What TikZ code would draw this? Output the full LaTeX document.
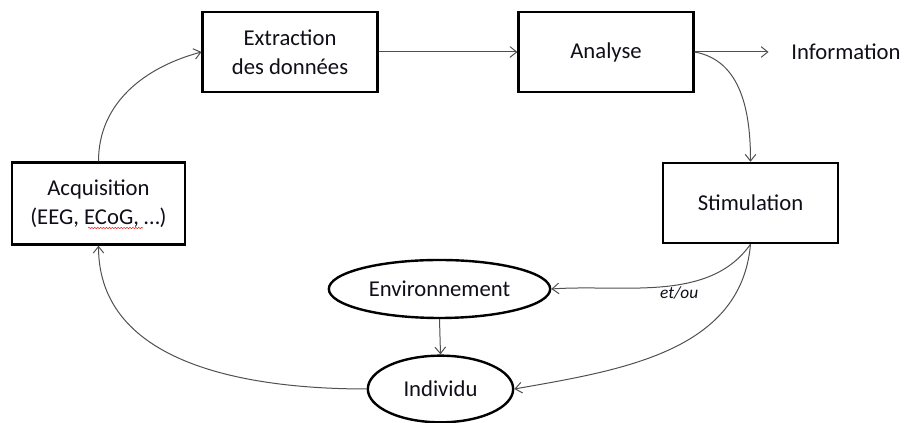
\documentclass[tikz,border=0pt]{standalone}
\usepackage{fontspec}
\setmainfont{Carlito}
\usepackage{xcolor}
\usetikzlibrary{shapes.geometric,arrows.meta,decorations.pathmorphing}
\definecolor{bciBorder}{RGB}{0,0,0}
\definecolor{bciLine}{RGB}{80,80,80}
\definecolor{bciText}{RGB}{15,15,25}
\definecolor{bciSpell}{RGB}{230,40,40}

\tikzset{
  stageBox/.style={draw=bciBorder, line width=1.8pt, fill=white, align=center,
    text=bciText, minimum width=131pt, minimum height=60pt,
    font=\fontsize{17}{21.5}\selectfont},
  stageOval/.style={ellipse, draw=bciBorder, line width=1.8pt, fill=white,
    text=bciText, inner sep=0pt, font=\fontsize{17}{21.5}\selectfont},
  flowArrow/.style={-{Straight Barb[length=5pt,width=8pt]}, draw=bciLine, line width=0.75pt}
}

\begin{document}
\begin{tikzpicture}[x=0.75pt, y=0.75pt]
                \useasboundingbox (0,0) rectangle (906,423);
                % boxes of the loop
                \node[stageBox, minimum width=130pt, minimum height=61.5pt] (acq) at (98.5,219.5) {Acquisition\\(EEG, ECoG, \ldots)};
                \node[stageBox] (ext) at (290,371) {Extraction\\des données};
                \node[stageBox] (ana) at (606,371) {Analyse};
                \node[stageBox] (stim) at (750.5,220) {Stimulation};
                \node[stageOval, minimum width=166pt, minimum height=43.5pt] (env) at (439.5,134) {Environnement};
                \node[stageOval, minimum width=109pt, minimum height=50pt] (ind) at (440.5,34) {Individu};
                \node[text=bciText, inner sep=0pt, font=\fontsize{17}{21.5}\selectfont] (info) at (846,371) {Information};
                % spell-check underline
                \draw[bciSpell, line width=0.4pt, decorate, decoration={snake, amplitude=0.5pt, segment length=2.2pt}] (88,195) -- (143,195);
                % connectors
                \draw[flowArrow] (acq.north) to[out=90, in=195] (ext.west);
                \draw[flowArrow] (ext.east) -- (ana.west);
                \draw[flowArrow, shorten >=17pt] (ana.east) -- (info.west);
                \draw[flowArrow] (ana.east) to[out=-10, in=90] (stim.north);
                \draw[flowArrow] (stim.south) to[out=-125, in=4, looseness=0.9] node[pos=0.42, below, inner sep=1pt, text=bciText, font=\fontsize{13}{15}\selectfont\itshape] (etou) {et/ou} (env.east);
                \draw[flowArrow] (stim.south) to[out=-95, in=10] (ind.east);
                \draw[flowArrow] (env.south) -- (ind.north);
                \draw[flowArrow] (ind.west) to[out=180, in=-90] (acq.south);
            \end{tikzpicture}
\end{document}
